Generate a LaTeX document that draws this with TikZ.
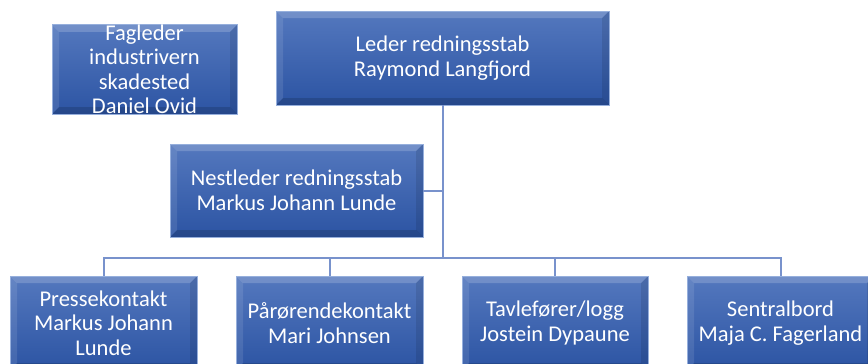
\documentclass[tikz,border=0pt]{standalone}
\usepackage{fontspec}
\setmainfont{Carlito}
\definecolor{boxtop}{RGB}{84,120,190}
\definecolor{boxbot}{RGB}{44,84,163}
\definecolor{boxedge}{RGB}{150,175,220}
\definecolor{linkc}{RGB}{120,146,204}
\tikzset{
  orgbox/.style={rectangle, inner sep=0pt, top color=boxtop, bottom color=boxbot,
    draw=boxedge, line width=0.8pt, text=white, align=center,
    font=\fontsize{22.5}{24.5}\selectfont,
    path picture={
      \fill[white,opacity=0.18] (path picture bounding box.north west) -- (path picture bounding box.north east)
        -- ([xshift=-7pt,yshift=-7pt]path picture bounding box.north east) -- ([xshift=7pt,yshift=-7pt]path picture bounding box.north west) -- cycle;
      \fill[white,opacity=0.10] (path picture bounding box.north west) -- ([xshift=7pt,yshift=-7pt]path picture bounding box.north west)
        -- ([xshift=7pt,yshift=7pt]path picture bounding box.south west) -- (path picture bounding box.south west) -- cycle;
      \fill[black,opacity=0.10] (path picture bounding box.north east) -- ([xshift=-7pt,yshift=-7pt]path picture bounding box.north east)
        -- ([xshift=-7pt,yshift=7pt]path picture bounding box.south east) -- (path picture bounding box.south east) -- cycle;
      \fill[black,opacity=0.15] (path picture bounding box.south west) -- ([xshift=7pt,yshift=7pt]path picture bounding box.south west)
        -- ([xshift=-7pt,yshift=7pt]path picture bounding box.south east) -- (path picture bounding box.south east) -- cycle;
    }},
  link/.style={draw=linkc, line width=2pt}
}
\begin{document}
\begin{tikzpicture}[x=1pt,y=-1pt]
\useasboundingbox (0,0) rectangle (868,364);
\clip (0,0) rectangle (868,364);
\node[orgbox, minimum width=185pt, minimum height=89pt] (fag) at (144.5,69.5) {Fagleder\\industrivern\\skadested\\Daniel Ovid};
\node[orgbox, minimum width=333pt, minimum height=94pt] (leder) at (442.5,58) {Leder redningsstab\\Raymond Langfjord};
\node[orgbox, minimum width=253pt, minimum height=93pt] (nest) at (296.5,190.5) {Nestleder redningsstab\\Markus Johann Lunde};
\node[orgbox, minimum width=187pt, minimum height=94pt] (presse) at (103.5,323) {Pressekontakt\\Markus Johann\\Lunde};
\node[orgbox, minimum width=187pt, minimum height=94pt] (paar) at (329.5,323) {Pårørendekontakt\\Mari Johnsen};
\node[orgbox, minimum width=186pt, minimum height=94pt] (tavle) at (555,323) {Tavlefører/logg\\Jostein Dypaune};
\node[orgbox, minimum width=187pt, minimum height=94pt] (sentral) at (780.5,323) {Sentralbord\\Maja C. Fagerland};
\coordinate (bus) at (442.5,257.5);
\draw[link] (leder.south) -- (bus);
\draw[link] (nest.east) -- (nest.east -| leder.south);
\draw[link] (presse.north) |- (bus) -| (sentral.north);
\draw[link] (paar.north) -- (paar.north |- bus);
\draw[link] (tavle.north) -- (tavle.north |- bus);
\end{tikzpicture}
\end{document}
